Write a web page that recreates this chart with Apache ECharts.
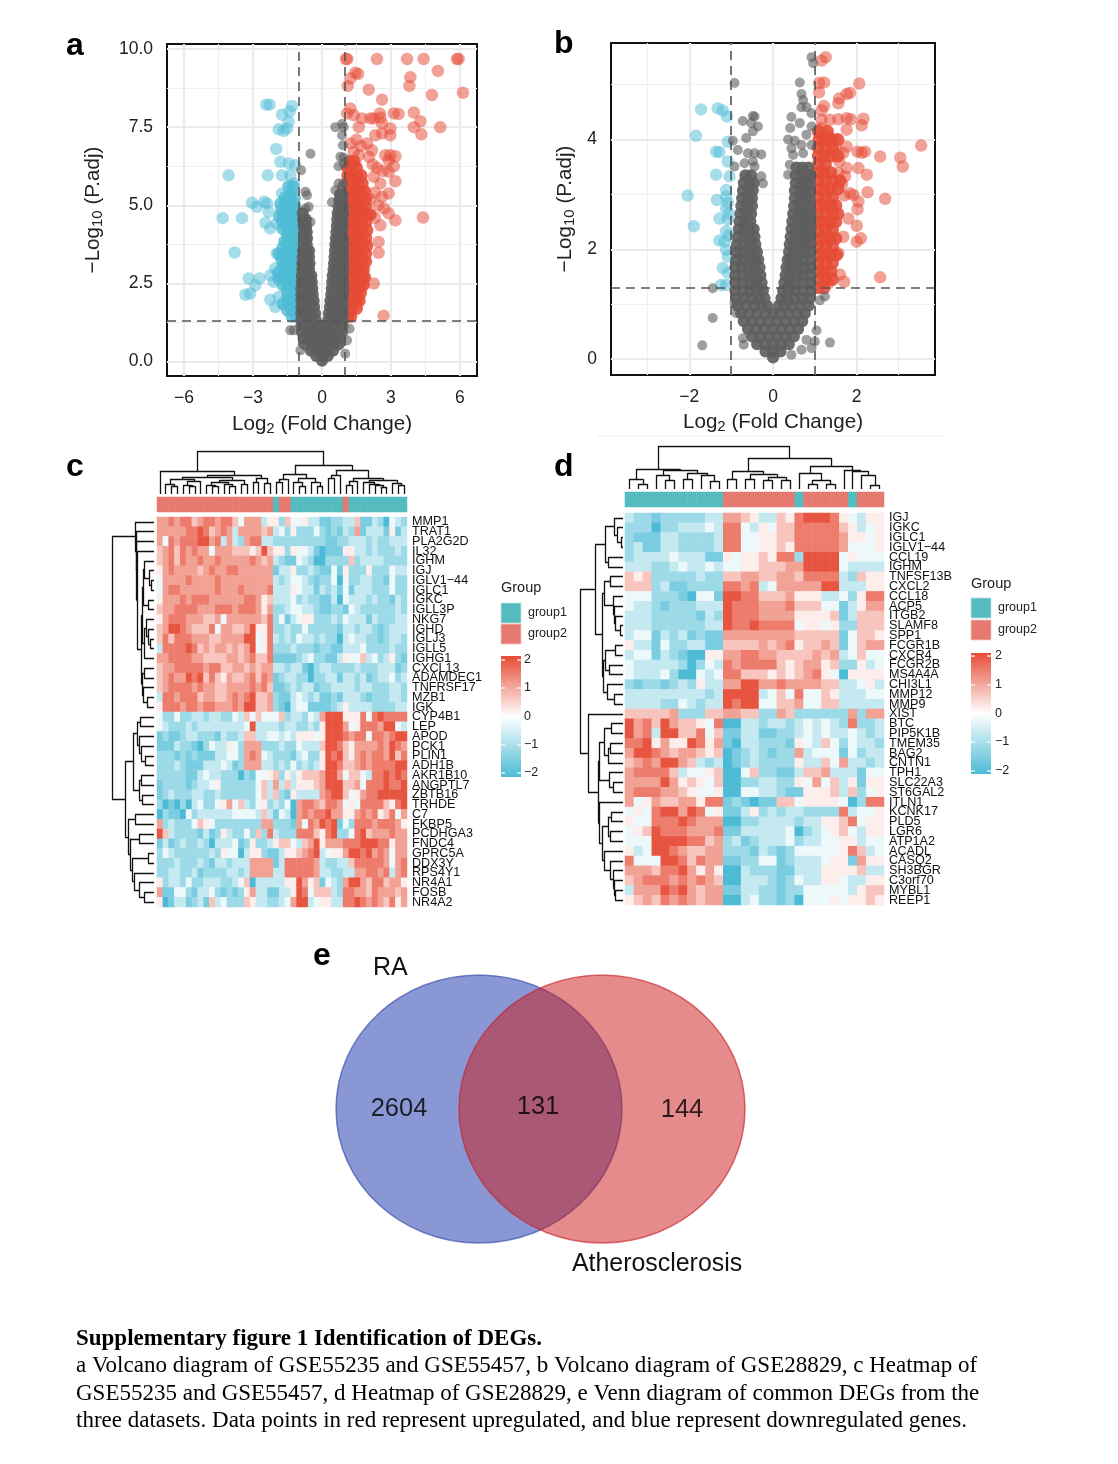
<!DOCTYPE html>
<html><head><meta charset="utf-8"><style>html,body{margin:0;padding:0;background:#fff}#c{width:1118px;height:1464px}</style>
<script src="https://cdn.jsdelivr.net/npm/echarts@6/dist/echarts.min.js"></script></head><body><div id="c"></div>
<script>
const upOutA=[[1.04,9.68],[1.1,9.68],[2.39,9.68],[3.7,9.68],[4.42,9.68],[5.87,9.68],[5.94,9.68],[5.04,9.3],[3.84,9.1],[3.8,8.82],[1.45,9.24],[1.23,9.06],[1.57,9.2],[1.12,8.82],[2.03,8.7],[6.13,8.6],[4.78,8.53],[2.61,8.38],[3.99,7.97],[3.12,7.94],[3.33,7.92],[4.28,7.69],[3.99,7.5],[5.14,7.5],[4.32,7.27],[2.51,7.94],[2.25,7.78],[2.54,7.8],[2.1,7.78],[1.23,8.1],[1.09,7.94],[1.38,7.88],[1.74,7.78],[1.6,7.5],[2.97,7.46],[2.61,7.62],[2.32,7.24],[2.61,7.3],[2.97,7.24],[1.23,6.98],[1.96,6.98],[2.17,6.76],[1.38,6.71],[2.75,6.6],[2.97,6.6],[3.19,6.57],[2.9,6.44],[3.12,6.25],[2.9,6.07],[3.19,5.77],[2.54,5.7],[2.25,5.91],[2.9,5.38],[2.61,5.27],[2.9,4.74],[3.19,4.52],[4.39,4.61],[2.54,4.36],[2.46,3.83],[2.46,3.48],[2.25,2.5],[2.68,1.47],[1.5,7.1],[1.7,6.9],[2.05,6.55],[1.6,6.6],[2.4,6.2],[2.2,6.3],[2.65,6.1],[2.3,5.4],[2.1,5.2],[2.45,5],[2.7,4.9],[2.3,4.6]];
const upRowsA=[[1.45,[1.12,1.25]],[1.7,[1.12,1.3,1.5]],[1.95,[1.12,1.3,1.5,1.62]],[2.2,[1.12,1.35,1.55,1.68]],[2.45,[1.12,1.3,1.5,1.7,1.8]],[2.7,[1.12,1.35,1.55,1.75,1.85]],[2.95,[1.12,1.3,1.5,1.7,1.8]],[3.2,[1.12,1.35,1.55,1.75,1.9]],[3.45,[1.12,1.3,1.5,1.7,1.9]],[3.7,[1.12,1.35,1.55,1.75,1.95]],[3.95,[1.12,1.3,1.5,1.7,1.9]],[4.2,[1.12,1.35,1.55,1.75,1.95]],[4.45,[1.12,1.3,1.5,1.7,1.9]],[4.7,[1.12,1.35,1.55,1.75,1.95,2.1]],[4.95,[1.12,1.3,1.5,1.7,1.9]],[5.2,[1.12,1.35,1.55,1.75,1.9]],[5.45,[1.12,1.3,1.5,1.7,1.85]],[5.7,[1.12,1.35,1.55,1.75]],[5.95,[1.12,1.3,1.5,1.7]],[6.2,[1.12,1.3,1.5]],[6.4,[1.2,1.4]]];
const dnOutA=[[-2.43,8.22],[-2.28,8.22],[-1.3,8.18],[-1.74,7.9],[-1.41,8],[-1.45,7.67],[-1.88,7.43],[-1.67,7.38],[-1.52,7.46],[-1.99,6.8],[-4.06,5.96],[-2.36,5.96],[-1.81,6.39],[-1.45,6.34],[-1.16,6.28],[-1.74,5.96],[-1.38,5.96],[-1.23,5.7],[-1.74,5.38],[-1.3,5.43],[-3.04,5.08],[-2.83,4.95],[-2.51,5.11],[-2.39,5.06],[-2.32,4.79],[-4.32,4.59],[-3.48,4.59],[-2.46,4.44],[-2.25,4.26],[-1.96,4.42],[-3.8,3.49],[-1.96,3.46],[-2.03,2.98],[-2.25,2.76],[-3.19,2.66],[-2.72,2.66],[-2.9,2.44],[-3.33,2.14],[-3.12,2.18],[-2.25,1.98],[-1.88,2.07],[-2.03,1.75],[-2.1,2.55]];
const dnRowsA=[[1.45,[-1.12,-1.3]],[1.65,[-1.12,-1.3,-1.5]],[1.85,[-1.12,-1.3,-1.5,-1.7]],[2.05,[-1.12,-1.3,-1.5]],[2.25,[-1.12,-1.3,-1.5]],[2.45,[-1.12,-1.3,-1.5,-1.7]],[2.65,[-1.12,-1.3,-1.5,-1.7,-1.88]],[2.85,[-1.12,-1.3,-1.5,-1.7,-1.9]],[3.05,[-1.12,-1.3,-1.5,-1.7]],[3.25,[-1.12,-1.3,-1.5,-1.75]],[3.45,[-1.12,-1.3,-1.5,-1.7,-1.88]],[3.65,[-1.12,-1.3,-1.5,-1.7]],[3.85,[-1.12,-1.3,-1.5,-1.62]],[4.05,[-1.12,-1.3,-1.5]],[4.25,[-1.12,-1.3,-1.5,-1.7]],[4.45,[-1.12,-1.3,-1.5,-1.72]],[4.65,[-1.12,-1.3,-1.5,-1.7,-1.85]],[4.85,[-1.12,-1.3,-1.5,-1.75]],[5.05,[-1.2,-1.4,-1.6,-1.8]],[5.25,[-1.2,-1.4,-1.6]],[5.6,[-1.25,-1.45]]];
const grayRowsA=[[.03,[0]],[.18,[-.25,0,.25]],[.35,[-.48,-.24,0,.24,.48]],[.55,[-.72,-.48,-.24,0,.24,.48,.72]],[.75,[-.8,-.58,-.34,-.1,.1,.34,.58,.8]],[.95,[-.88,-.66,-.42,-.2,0,.2,.42,.66,.88]],[1.15,[-.9,-.68,-.46,-.24,0,.24,.46,.68,.9]],[1.35,[-.9,-.68,-.46,-.28,.28,.46,.68,.9]],[1.55,[-.9,-.7,-.5,-.3,.3,.5,.7,.9]],[1.75,[-.9,-.7,-.5,-.34,.34,.5,.7,.9]],[1.95,[-.9,-.7,-.5,-.36,.36,.52,.72,.9]],[2.15,[-.9,-.7,-.52,-.4,.4,.55,.72,.92]],[2.35,[-.9,-.72,-.54,-.42,.42,.56,.74,.92]],[2.55,[-.88,-.7,-.55,-.44,.44,.58,.75,.92]],[2.75,[-.88,-.7,-.56,-.46,.46,.6,.76,.92]],[2.95,[-.86,-.7,-.56,.5,.64,.78,.92]],[3.15,[-.86,-.68,-.54,.52,.66,.8,.92]],[3.35,[-.84,-.68,-.56,.54,.68,.82,.92]],[3.55,[-.82,-.66,-.56,.56,.7,.84,.92]],[3.75,[-.8,-.66,.58,.72,.85,.92]],[3.95,[-.78,-.65,.6,.74,.86,.92]],[4.15,[-.78,-.66,.62,.76,.88]],[4.35,[-.8,-.68,.64,.78,.9]],[4.55,[-.82,-.7,.66,.8,.9]],[4.75,[-.84,.68,.82,.92]],[4.95,[.72,.84,.92]],[5.15,[.75,.88]],[5.35,[.78,.9]]];
const grayOutA=[[-.5,6.65],[-.91,6.12],[-.72,5.43],[-.65,5.32],[-.72,4.9],[-.58,4.95],[-.5,4.47],[.58,7.5],[.94,7.5],[.87,7.6],[.87,7.24],[.91,6.92],[.8,6.55],[.94,6.53],[.72,6.25],[.94,6.33],[.72,5.7],[.58,5.48],[.87,5.59],[.43,5.1],[-1.23,1],[-1.38,1],[-.94,.36],[1.01,.25],[1.09,.68],[1.2,1.05],[.85,5.35],[.92,5.7]];
const upOutB=[[1.26,5.5],[1.16,5.44],[1.22,5.04],[1.1,5.03],[2.06,5.02],[1.1,4.86],[1.76,4.83],[1.84,4.85],[1.58,4.75],[1.56,4.66],[1.22,4.61],[1.16,4.53],[1.36,4.36],[1.56,4.37],[1.76,4.39],[1.86,4.37],[2.16,4.38],[2.12,4.26],[1.76,4.18],[1.16,4.36],[1.14,4.21],[3.54,3.89],[2.56,3.69],[3.04,3.67],[3.1,3.51],[2.24,3.36],[2.26,3.04],[2.68,2.92],[2.04,3.48],[1.76,3.48],[2.02,3.78],[2.2,3.78],[2.12,3.76],[1.76,3.87],[1.68,3.76],[1.48,4],[1.32,4.06],[1.72,3.33],[1.56,3.39],[1.84,3.02],[1.92,2.99],[2.04,2.87],[2.02,2.73],[1.8,2.56],[2,2.43],[2.1,2.2],[2,2.14],[1.68,2.23],[1.56,1.93],[2.56,1.49],[1.6,1.54],[1.7,1.41],[1.32,1.38],[1.5,3.85],[1.58,3.6],[1.65,3.2],[1.7,2.98]];
const upRowsB=[[1.3,[1.08,1.22]],[1.45,[1.08,1.25,1.42]],[1.6,[1.08,1.22,1.38]],[1.75,[1.08,1.25,1.42]],[1.9,[1.08,1.22,1.38,1.52]],[2.05,[1.08,1.25,1.42]],[2.2,[1.08,1.22,1.38,1.5]],[2.35,[1.08,1.25,1.42]],[2.5,[1.08,1.22,1.38,1.5]],[2.65,[1.08,1.25,1.42,1.55]],[2.8,[1.08,1.22,1.38,1.5]],[2.95,[1.08,1.25,1.42]],[3.1,[1.08,1.22,1.38,1.55]],[3.25,[1.08,1.25,1.42,1.6]],[3.4,[1.08,1.22,1.38]],[3.55,[1.08,1.25]],[3.7,[1.08,1.22,1.38,1.55]],[3.85,[1.08,1.25,1.42]],[4,[1.1,1.22,1.38,1.55]],[4.15,[1.08,1.3]]];
const dnOutB=[[-1.72,4.55],[-1.32,4.57],[-1.2,4.53],[-1.1,4.42],[-1.84,4.07],[-1.08,3.96],[-1.36,3.78],[-1.28,3.77],[-1.08,3.6],[-1.36,3.36],[-1.04,3.33],[-2.04,2.98],[-1.34,2.9],[-1.12,3.08],[-1.12,2.96],[-1.12,2.75],[-1.28,2.56],[-1.89,2.42],[-1.08,2.54],[-1.12,2.33],[-1.28,2.16],[-1.16,2.14],[-1.12,1.99],[-1.08,1.87],[-1.2,1.66],[-1.08,1.57],[-1.24,1.35],[-1.12,1.35],[-1.05,2.25],[-1.05,2.65],[-1.08,2.85]];
const grayRowsB=[[.03,[0]],[.14,[-.18,0,.18]],[.27,[-.38,-.19,0,.19,.38]],[.41,[-.5,-.3,-.1,.1,.3,.5]],[.55,[-.6,-.4,-.2,0,.2,.4,.6]],[.69,[-.7,-.5,-.3,-.1,.1,.3,.5,.7]],[.83,[-.76,-.58,-.38,-.18,0,.18,.38,.58,.76]],[.97,[-.85,-.65,-.45,-.27,-.14,.14,.27,.45,.65,.85]],[1.11,[-.88,-.7,-.5,-.33,-.2,.2,.33,.5,.7,.88]],[1.25,[-.9,-.72,-.54,-.38,-.24,.24,.38,.54,.72,.9]],[1.39,[-.9,-.72,-.54,-.4,-.27,.27,.4,.54,.72,.9]],[1.53,[-.9,-.72,-.56,-.42,-.3,.3,.42,.56,.72,.9]],[1.67,[-.9,-.74,-.58,-.44,-.32,.32,.44,.58,.74,.9]],[1.81,[-.88,-.72,-.56,-.44,-.35,.35,.44,.56,.72,.9]],[1.95,[-.88,-.72,-.58,-.46,-.38,.38,.5,.62,.76,.9]],[2.09,[-.86,-.7,-.55,-.42,.4,.52,.66,.78,.9]],[2.23,[-.84,-.68,-.55,-.44,.42,.55,.68,.8,.9]],[2.37,[-.82,-.68,-.56,-.46,.44,.57,.7,.82,.9]],[2.51,[-.8,-.66,-.54,.46,.6,.72,.84,.9]],[2.65,[-.78,-.64,-.52,.48,.62,.74,.85,.9]],[2.79,[-.76,-.62,-.5,.5,.64,.76,.86]],[2.93,[-.74,-.6,-.5,.52,.66,.78,.88]],[3.07,[-.72,-.58,-.48,.52,.66,.78,.88]],[3.21,[-.7,-.56,-.46,.54,.68,.8,.88]],[3.35,[-.66,-.52,.54,.7,.82,.9]],[3.49,[.56,.7,.84]]];
const grayOutB=[[-.92,5.03],[.92,5.5],[.96,5.39],[.64,5.04],[.68,4.83],[.72,4.72],[.68,4.59],[.8,4.59],[.92,4.48],[-.48,4.43],[-.44,4.42],[-.72,4.34],[-.52,4.3],[-.36,4.24],[.44,4.41],[.41,4.21],[.64,4.3],[.92,4.24],[-.96,3.98],[-.64,4.03],[-.48,4.15],[.36,4],[.52,3.98],[.8,4.09],[.92,3.9],[-.84,3.81],[-.6,3.75],[-.44,3.75],[-.28,3.73],[.44,3.84],[.68,3.9],[.48,3.72],[.72,3.75],[-.92,3.51],[-.68,3.57],[-.48,3.6],[-.44,3.51],[-.28,3.33],[-.24,3.2],[.4,3.54],[.36,3.36],[-1.44,1.29],[-1.44,.75],[-1.69,.25],[1.36,.3],[1.04,.52],[.92,.2],[1,.32],[1.24,1.14],[1.12,1.07],[-.92,1.02],[-.88,.84],[-.72,.38],[-.7,.26],[.68,.17],[.8,.35],[.44,.08]];

const genesC=["MMP1","TRAT1","PLA2G2D","IL32","IGHM","IGJ","IGLV1\u221244","IGLC1","IGKC","IGLL3P","NKG7","IGHD","IGLJ3","IGLL5","IGHG1","CXCL13","ADAMDEC1","TNFRSF17","MZB1","IGK","CYP4B1","LEP","APOD","PCK1","PLIN1","ADH1B","AKR1B10","ANGPTL7","ZBTB16","TRHDE","C7","FKBP5","PCDHGA3","FNDC4","GPRC5A","DDX3Y","RPS4Y1","NR4A1","FOSB","NR4A2"];
const genesD=["IGJ","IGKC","IGLC1","IGLV1\u221244","CCL19","IGHM","TNFSF13B","CXCL2","CCL18","ACP5","ITGB2","SLAMF8","SPP1","FCGR1B","CXCR4","FCGR2B","MS4A4A","CHI3L1","MMP12","MMP9","XIST","BTC","PIP5K1B","TMEM35","BAG2","CNTN1","TPH1","SLC22A3","ST6GAL2","ITLN1","KCNK17","PLD5","LGR6","ATP1A2","ACADL","CASQ2","SH3BGR","C3orf70","MYBL1","REEP1"];
const levels=[-2,-1.5,-1.1,-.65,-.2,.2,.65,1.05,1.45,1.9];
const heatRowsC=[
"77878 86788 78864 77735 52644 53311 22336 11320 432",
"77777 88986 78737 77767 34252 22421 21327 13331 513",
"74878 88997 83732 78833 22222 22221 12233 32322 333",
"67868 78774 77766 65696 55254 43101 11553 32322 232",
"67868 77877 87777 78767 32114 32002 22262 33332 222",
"57877 77678 77887 77777 13352 23211 41522 25222 433",
"47777 87777 87777 77777 32344 32122 40422 33221 422",
"47887 77777 87778 77778 33354 33132 31413 33222 422",
"57778 78887 77777 88756 33342 32211 30433 32322 132",
"67788 88777 88878 88757 22344 33211 22143 22222 232",
"57888 77766 74777 77768 24134 55222 32433 31322 233",
"67998 76668 47766 79558 22322 42222 21332 33212 333",
"68688 87776 67777 99458 32324 33232 20343 32212 332",
"38888 98676 77676 79458 22232 22122 11333 42222 322",
"77888 87766 66776 78668 11112 34221 13544 63423 521",
"67788 88878 86677 67677 33233 10233 22223 22233 312",
"67877 98968 65766 78687 12332 20223 31332 31233 423",
"67888 87877 66777 78786 11232 33122 33332 33222 332",
"38878 88677 66787 89667 21134 32311 21333 21222 332",
"58887 88788 77787 99667 21034 41111 23533 33222 233",
"42242 23323 32243 64644 46233 24379 99555 84898 888",
"43222 32333 33333 49333 32332 23259 99745 88879 943",
"12112 33222 13223 66334 43435 55459 99878 84887 899",
"11132 21024 33542 77722 23224 33369 98657 77787 987",
"22212 12111 33442 78743 22213 42259 89657 87887 968",
"22232 11133 34312 77733 23242 32359 98667 87888 899",
"22222 11343 32220 21445 62535 66679 97466 43889 898",
"12222 12334 52222 22463 73635 55679 99667 48889 889",
"12322 23322 32222 22463 62153 33378 99645 78899 999",
"20102 03422 45746 32452 32407 88768 87454 88886 589",
"02110 42333 33344 44363 14307 87889 77557 87856 847",
"72322 24654 22222 22277 22217 48798 91428 88788 875",
"96322 22131 25322 42628 32228 88658 92248 96777 877",
"13123 22320 33341 25223 56643 67957 77888 99988 577",
"24322 22223 25440 35521 13556 78934 55799 89787 477",
"22232 22321 33233 37777 13888 88732 23368 88887 478",
"22332 23122 22332 37777 33888 88733 22337 78878 378",
"52332 42233 32234 60333 33559 75614 32799 76886 775",
"71144 21334 21212 57331 13359 84666 32887 76877 767",
"50133 12316 34222 65332 23479 93455 33889 87876 857"];
const heatRowsD=[
"32212 22223 37765 33658 99985 4355",
"22202 23334 38843 54668 88886 5345",
"21113 32222 38844 55668 88887 5545",
"23113 32222 38844 55658 88887 4445",
"23333 43331 15455 65882 99994 5444",
"33322 34334 34455 66677 99994 3333",
"65622 22232 26677 66776 88883 2655",
"66623 11222 28878 34777 77993 3355",
"44422 21044 19988 66675 55334 2588",
"43321 22233 39888 77786 66441 3577",
"33322 22213 29888 77775 55561 3666",
"33322 22223 39889 88884 55452 2666",
"34413 23121 17777 77776 66661 4665",
"53314 22331 16666 76785 66761 4677",
"34413 21005 57788 77666 67673 4644",
"43333 32024 38788 88656 77562 2534",
"43334 20043 48866 65656 78540 5555",
"21221 23253 37799 77877 77663 3453",
"33333 33332 39999 34648 44653 3344",
"33332 24323 39899 44667 44663 3333",
"66666 72226 67766 22762 22222 7277",
"97869 76654 80033 23323 43432 8223",
"97839 96684 61133 11223 43433 4323",
"88957 55985 71033 22215 43642 4332",
"79987 67765 60123 21227 34441 4233",
"67879 97632 30123 22225 33647 3323",
"78888 63445 60046 22113 66733 3144",
"77779 75654 60022 33225 47463 5155",
"78887 76544 50044 33211 55563 6245",
"74576 67758 81210 11664 55554 0288",
"45489 97984 51135 23233 22228 3445",
"54488 89877 70022 33332 33556 8455",
"45698 88777 81133 33340 23456 4355",
"44499 99886 72312 33342 33445 5344",
"53499 87667 72221 32124 44445 8634",
"84449 98687 71122 44123 33455 1755",
"77768 89757 50032 22113 33555 5633",
"67888 78787 60033 32124 33554 3355",
"37779 89767 71133 22122 44444 3566",
"56768 78767 70034 22120 44454 5565"];
const groupsC="2222222222222222222212211111111121111111111";
const groupsD="11111111111222222221222221222";
const topTreeC=[43,[23,0,[19,[17,[15,[10,0,[8,0,0]],[13,[9,0,[8,0,0]],0]],[14,[12,[9,0,[8,0,0]],[10,0,[8,0,0]]],[10,0,0]]],[16,[12,0,0],[11,0,0]]]],[29,[20,[15,[12,0,0],0],[16,[12,0,[8,0,0]],[12,0,[8,0,0]]]],[24,[19,[16,0,0],0],[16,[13,[9,0,0],0],[14,[12,0,[10,0,[9,0,[7,0,0]]]],[11,0,[9,0,0]]]]]]];
const leftTreeC=[42,[19,0,[18,0,[17.5,0,[17,0,[12.5,[12,[11,[10,0,[5,0,[3,0,0]]],[6,0,0]],[10,[8,0,[6,0,[4,0,0]]],0]],[12,[10,0,0],[11,0,[7,0,0]]]]]]]],[29,[21,[17,[14,0,0],[15,0,[13,0,[9,0,0]]]],[15,[13,0,0],[12,0,0]]],[26,[19,0,0],[24,[15,0,0],[22,[6,0,0],[20,0,[15,0,[10,0,0]]]]]]]];
const topTreeD=[43,[20,[10,0,[5,0,0]],[19,[14,0,[9,0,0]],[16,[10,0,0],[14,0,[8,0,0]]]]],[31,[18,[10,0,0],[15,[10,0,0],[12,[9,0,0],[9,0,0]]]],[23,[16,0,[9,[5,0,0],[5,0,0]]],[18.7,0,[18,0,[14,0,[4,0,0]]]]]]];
const leftTreeD=[43,[28,[18,[9,0,[6,0,[2,0,0]]],[15,0,0]],[21,[19,[13,0,0],[10,0,[9,0,[8,0,[3,0,0]]]]],[20,[18,[8,0,0],[14,0,0]],[16,0,[9,0,0]]]]],[35,0,[25,[24,[19,[12,0,0],[15,[13,0,0],0]],[14,0,[10,0,0]]],[24,0,[21,[15,[12,0,0],[13,0,0]],[19,0,[13,0,[10,0,[9,0,[8,0,0]]]]]]]]]];
const vennSets=[[143,134,143,134,0],[266,134,143,134,1]];
const vennCounts=[["2604",63,134],["131",202,132],["144",346,135]];
const xTicksA=[-6,-3,0,3,6],yTicksA=[0,2.5,5,7.5,10],xMinorA=[-4.5,-1.5,1.5,4.5],yMinorA=[1.25,3.75,6.25,8.75];
const xTicksB=[-2,0,2],yTicksB=[0,2,4],xMinorB=[-3,-1,1,3],yMinorB=[1,3,5];

const F='"Liberation Sans",Arial,sans-serif',S='"Liberation Serif","Times New Roman",serif';
const RED='#E64B35',BLUE='#4DBBD5',GRAY='#5e5e5e',G1='#55BBBE',G2='#E67A71';
const flat=rows=>rows.flatMap(([y,xs])=>xs.map(x=>[x,y]));
const decode=rows=>rows.flatMap((r,y)=>r.replace(/\s/g,'').split('').map((d,x)=>[x,y,levels[+d]]));
function dend(tree,horizontal){let i=0;const segs=[];const p=(a,b)=>horizontal?[b,a]:[a,b];
 (function walk(n){if(n===0)return[(i++)+.5,0];const[h,a,b]=n;const A=walk(a),B=walk(b);
  segs.push({coords:[p(A[0],A[1]),p(A[0],h)]},{coords:[p(A[0],h),p(B[0],h)]},{coords:[p(B[0],h),p(B[0],B[1])]});return[(A[0]+B[0])/2,h];})(tree);return segs;}
const grids=[],xAxes=[],yAxes=[],series=[];
function addGrid(g,x,y){grids.push(Object.assign({containLabel:false},g));const i=grids.length-1;xAxes.push(Object.assign({gridIndex:i},x));yAxes.push(Object.assign({gridIndex:i},y));return i;}
const hid={show:false};
function vline(v,a,b){return{coords:[[v,a],[v,b]]}}function hline(v,a,b){return{coords:[[a,v],[b,v]]}}
function lineS(i,data,style,z){series.push({type:'lines',coordinateSystem:'cartesian2d',xAxisIndex:i,yAxisIndex:i,polyline:false,silent:true,z,data,lineStyle:Object.assign({opacity:1,curveness:0},style),animation:false});}
const fmt=v=>String(v).replace('-','\u2212');
const nameRich={a:{fontSize:20.6,fontFamily:F,color:'#222'},b:{fontSize:15,fontFamily:F,color:'#222',padding:[8,0,0,0]}};
function volcano(g,xr,yr,xt,yt,xm,ym,lab,guides,dn,dnM,up,upM,gr,grO,gapX,gapY){
 const tick={show:true,length:5,inside:false,lineStyle:{color:'#222',width:1.5}};
 const i=addGrid(Object.assign({show:true,borderColor:'#111',borderWidth:2,backgroundColor:'transparent'},g),
  {type:'value',min:xr[0],max:xr[1],axisLine:{show:false},splitLine:hid,axisTick:Object.assign({customValues:xt},tick),axisLabel:{customValues:xt,formatter:fmt,fontSize:17.5,fontFamily:F,color:'#222',margin:13},name:'{a|Log}{b|2}{a| (Fold Change)}',nameLocation:'middle',nameGap:gapX,nameTextStyle:{rich:nameRich}},
  {type:'value',min:yr[0],max:yr[1],axisLine:{show:false},splitLine:hid,axisTick:Object.assign({customValues:yt},tick),axisLabel:{customValues:yt,formatter:lab,fontSize:17.5,fontFamily:F,color:'#222',margin:14,padding:[4,0,0,0]},name:'{a|\u2212Log}{b|10}{a| (P.adj)}',nameLocation:'middle',nameGap:gapY,nameTextStyle:{rich:nameRich}});
 lineS(i,xm.map(v=>vline(v,yr[0],yr[1])).concat(ym.map(v=>hline(v,xr[0],xr[1]))),{color:'#f0f0f0',width:1.2},1);
 lineS(i,xt.map(v=>vline(v,yr[0],yr[1])).concat(yt.map(v=>hline(v,xr[0],xr[1]))),{color:'#ebebeb',width:2.2},1);
 const sc=(data,color,size,op,z)=>series.push({type:'scatter',xAxisIndex:i,yAxisIndex:i,data,symbolSize:size,itemStyle:{color,opacity:op},z,silent:true,animation:false});
 sc(dn,BLUE,12.5,.5,3);sc(dnM,BLUE,13,.8,3);sc(up,RED,12.5,.52,3);sc(upM,RED,13,.88,3);sc(grO,GRAY,10,.6,4);sc(gr,GRAY,12,.92,4);
 lineS(i,[vline(guides[0],yr[0],yr[1]),vline(guides[1],yr[0],yr[1]),hline(guides[2],xr[0],xr[1])],{color:'#555',width:1.6,type:[9,6]},6);
}
volcano({left:167,top:44,width:310,height:332},[-6.74,6.74],[-.46,10.16],xTicksA,yTicksA,xMinorA,yMinorA,v=>v.toFixed(1),[-1,1,1.3],
 dnOutA,flat(dnRowsA),upOutA,flat(upRowsA),flat(grayRowsA),grayOutA,37,62);
volcano({left:611,top:43,width:324,height:332},[-3.87,3.87],[-.29,5.76],xTicksB,yTicksB,xMinorB,yMinorB,fmt,[-1,1,1.3],
 dnOutB,[],upOutB,flat(upRowsB),flat(grayRowsB),grayOutB,36,34);

const heatSeries=[],annSeries=[];
function heatPanel(genes,rows,groups,L,W,T,H,annT,topT,topH,leftL,leftW,tTree,lTree){
 const n=groups.length,cols=groups.split('').map((_,k)=>String(k));
 const i=addGrid({left:L,top:T,width:W,height:H},{type:'category',data:cols,show:false},
  {type:'category',data:genes,inverse:true,axisLine:hid,axisTick:hid,axisLabel:{interval:0,margin:5,fontSize:12.6,fontFamily:F,color:'#111'},position:'right'});
 heatSeries.push(series.length);
 series.push({type:'heatmap',xAxisIndex:i,yAxisIndex:i,data:decode(rows),silent:true,animation:false,progressive:0});
 const a=addGrid({left:L,top:annT,width:W,height:15},{type:'category',data:cols,show:false},{type:'category',data:['g'],show:false});
 annSeries.push(series.length);
 series.push({type:'heatmap',xAxisIndex:a,yAxisIndex:a,data:groups.split('').map((g,k)=>[k,0,+g]),silent:true,animation:false,progressive:0});
 const t=addGrid({left:L,top:topT,width:W,height:topH},{type:'value',min:0,max:n,show:false},{type:'value',min:0,max:topH,show:false});
 lineS(t,dend(tTree,false),{color:'#111',width:1.3},2);
 const l=addGrid({left:leftL,top:T,width:leftW,height:H},{type:'value',min:0,max:leftW,inverse:true,show:false},{type:'value',min:0,max:40,inverse:true,show:false});
 lineS(l,dend(lTree,true),{color:'#111',width:1.3},2);
}
heatPanel(genesC,heatRowsC,groupsC,157,250,517,390,497,451,43,112,42,topTreeC,leftTreeC);
heatPanel(genesD,heatRowsD,groupsD,625,259,513,392,492,446,43,580,43,topTreeD,leftTreeD);

const v=addGrid({left:336,top:975,width:409,height:268},{type:'value',min:0,max:409,show:false},{type:'value',min:0,max:268,inverse:true,show:false});
const vennFill=['rgba(19,49,169,.5)','rgba(203,23,23,.5)'],vennEdge=['rgba(40,60,160,.55)','rgba(200,30,40,.6)'];
series.push({type:'custom',xAxisIndex:v,yAxisIndex:v,data:vennSets,silent:true,animation:false,z:2,renderItem:(p,api)=>{const c=api.coord([api.value(0),api.value(1)]),s=api.size([api.value(2),api.value(3)]),k=api.value(4);
 return{type:'ellipse',shape:{cx:c[0],cy:c[1],rx:s[0],ry:s[1]},style:{fill:vennFill[k],stroke:vennEdge[k],lineWidth:1.5}};}});
series.push({type:'scatter',xAxisIndex:v,yAxisIndex:v,symbolSize:0,z:3,silent:true,animation:false,data:vennCounts.map(d=>({name:d[0],value:[d[1],d[2]]})),label:{show:true,position:'inside',formatter:'{b}',fontSize:25.5,fontFamily:F,color:'#000'}});

const T=(text,x,y,font,o={})=>({type:'text',x,y,z:20,silent:true,style:Object.assign({text,font,fill:'#111',align:'left',verticalAlign:'middle'},o)});
const graphic=[];
[['a',66,46],['b',554,44],['c',66,467],['d',554,467],['e',313,956]].forEach(d=>graphic.push(T(d[0],d[1],d[2],'bold 32px '+F,{fill:'#000'})));
graphic.push({type:'line',z:1,silent:true,shape:{x1:597,y1:436,x2:943,y2:436},style:{stroke:'#eeeeee',lineWidth:1}});
function legend(x,gy,s1,s2,barT,barB,ticks,lx,sl){
 graphic.push(T('Group',x,gy,'14.5px '+F,{fill:'#222'}));
 graphic.push({type:'rect',z:20,silent:true,shape:{x,y:s1,width:20,height:20},style:{fill:G1,stroke:'#bfe3e3',lineWidth:.8}});
 graphic.push({type:'rect',z:20,silent:true,shape:{x,y:s2,width:20,height:20},style:{fill:G2,stroke:'#f5c8c3',lineWidth:.8}});
 graphic.push(T('group1',sl,s1+10,'12.5px '+F,{fill:'#222'}),T('group2',sl,s2+10,'12.5px '+F,{fill:'#222'}));
 graphic.push({type:'rect',z:20,silent:true,shape:{x,y:barT,width:20,height:barB-barT},style:{fill:new echarts.graphic.LinearGradient(0,0,0,1,[{offset:0,color:RED},{offset:.5,color:'#fff'},{offset:1,color:BLUE}])}});
 ticks.forEach(([lab,y])=>{graphic.push({type:'line',z:21,silent:true,shape:{x1:x,y1:y,x2:x+4,y2:y},style:{stroke:'#fff',lineWidth:1.2}},{type:'line',z:21,silent:true,shape:{x1:x+16,y1:y,x2:x+20,y2:y},style:{stroke:'#fff',lineWidth:1.2}});
  graphic.push(T(lab,lx,y,'12.5px '+F,{fill:'#222'}));});
}
legend(501,588,603,624,656,777,[['2',660],['1',688],['0',717],['\u22121',745],['\u22122',773]],524,528);
legend(971,584,598,620,653,774,[['2',656],['1',685],['0',714],['\u22121',742],['\u22122',771]],995,998);
graphic.push(T('RA',373,968,'25px '+F),T('Atherosclerosis',572,1264,'24.9px '+F));
graphic.push(T('Supplementary figure 1 Identification of DEGs.',76,1339,'bold 23px '+S,{fill:'#000'}));
['a Volcano diagram of GSE55235 and GSE55457, b Volcano diagram of GSE28829, c Heatmap of','GSE55235 and GSE55457, d Heatmap of GSE28829, e Venn diagram of common DEGs from the','three datasets. Data points in red represent upregulated, and blue represent downregulated genes.'].forEach((t,k)=>graphic.push(T(t,76,[1366,1394,1421][k],'23px '+S,{fill:'#000'})));

const chart=echarts.init(document.getElementById('c'),null,{renderer:'canvas'});
chart.setOption({animation:false,backgroundColor:'#fff',grid:grids,xAxis:xAxes,yAxis:yAxes,series,graphic,
 visualMap:[{type:'continuous',show:false,min:-2,max:2,dimension:2,seriesIndex:heatSeries,inRange:{color:[BLUE,'#ffffff',RED]}},
  {type:'piecewise',show:false,dimension:2,seriesIndex:annSeries,pieces:[{value:1,color:G1},{value:2,color:G2}]}]});
</script></body></html>
